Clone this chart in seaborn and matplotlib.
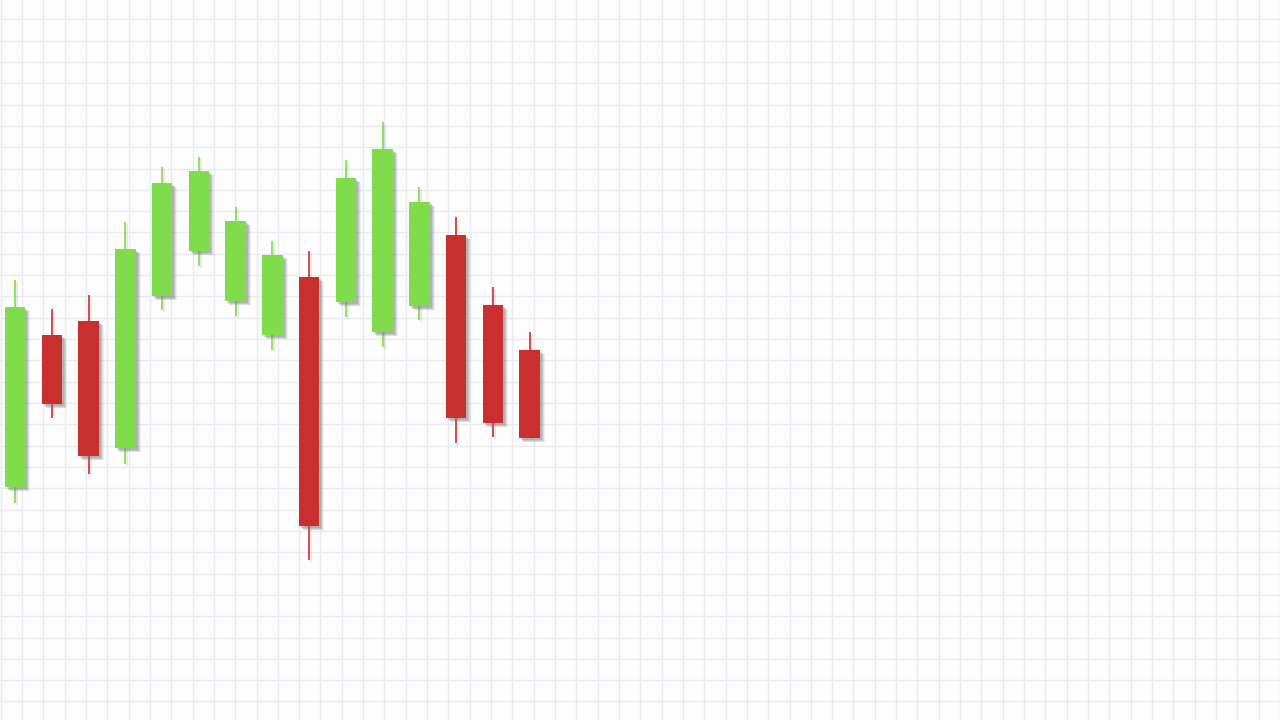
import numpy as np
import seaborn as sns
import matplotlib.pyplot as plt
import matplotlib.patheffects as pe
from matplotlib.ticker import MultipleLocator

# candle data (price units)
opens = [23.3, 38.5, 39.9, 27.2, 42.4, 46.9, 41.9, 38.5, 44.3, 41.8, 38.8, 41.4, 48.5, 41.5, 37.0]
closes = [41.3, 31.6, 26.4, 47.1, 53.7, 54.9, 49.9, 46.5, 19.4, 54.2, 57.1, 51.8, 30.2, 29.7, 28.2]
highs = [44.0, 41.1, 42.5, 49.8, 55.3, 56.3, 51.3, 47.9, 46.9, 56.0, 59.8, 53.3, 50.3, 43.3, 38.8]
lows = [21.7, 30.2, 24.6, 25.6, 41.0, 45.4, 40.4, 37.0, 16.0, 40.3, 37.3, 40.0, 27.7, 28.3, 28.2]

up_color = '#7fdc4b'
down_color = '#c92f2e'

sns.set_theme(style='white')

fig = plt.figure(figsize=(12.8, 7.2), dpi=100)
fig.patch.set_facecolor('#fdfdfe')

# background grid
bg = fig.add_axes([0, 0, 1, 1])
bg.set_facecolor('#fdfdfe')
bg.set_xlim(-22 / 21.32, (1280 - 22) / 21.32)
bg.set_ylim(-0.87, 32.905)
bg.xaxis.set_major_locator(MultipleLocator(1))
bg.yaxis.set_major_locator(MultipleLocator(1))
bg.grid(True, color='#e8eaf1', linewidth=1.0)
bg.tick_params(left=False, bottom=False, labelleft=False, labelbottom=False)
for s in bg.spines.values():
    s.set_visible(False)

# candles
step = 36.76
ax = fig.add_axes([0, 0, 1, 1])
ax.patch.set_alpha(0)
ax.set_xlim(-15.0 / step, (1280 - 15.0) / step)
ax.set_ylim(0, 72)
ax.axis('off')

x = np.arange(len(opens))
opens_a = np.array(opens)
closes_a = np.array(closes)
colors = [up_color if c >= o else down_color for o, c in zip(opens, closes)]

shadow = [
    pe.SimplePatchShadow(offset=(3.6, -3.2), shadow_rgbFace='#7a7a7a', alpha=0.10),
    pe.SimplePatchShadow(offset=(2.9, -2.6), shadow_rgbFace='#7a7a7a', alpha=0.16),
    pe.SimplePatchShadow(offset=(2.2, -2.0), shadow_rgbFace='#7a7a7a', alpha=0.22),
    pe.SimplePatchShadow(offset=(1.5, -1.3), shadow_rgbFace='#7a7a7a', alpha=0.25),
    pe.Normal(),
]
line_shadow = [
    pe.SimpleLineShadow(offset=(1.5, -1.5), shadow_color='#8a8a8a', alpha=0.2),
    pe.Normal(),
]

ax.vlines(x, lows, highs, colors=colors, linewidth=1.2, zorder=2,
          path_effects=line_shadow)
bars = ax.bar(x, np.abs(closes_a - opens_a), bottom=np.minimum(opens_a, closes_a),
              width=20.5 / step, color=colors, linewidth=0, zorder=3)
for b in bars:
    b.set_path_effects(shadow)

fig.savefig('out.png', dpi=100, facecolor=fig.get_facecolor())
